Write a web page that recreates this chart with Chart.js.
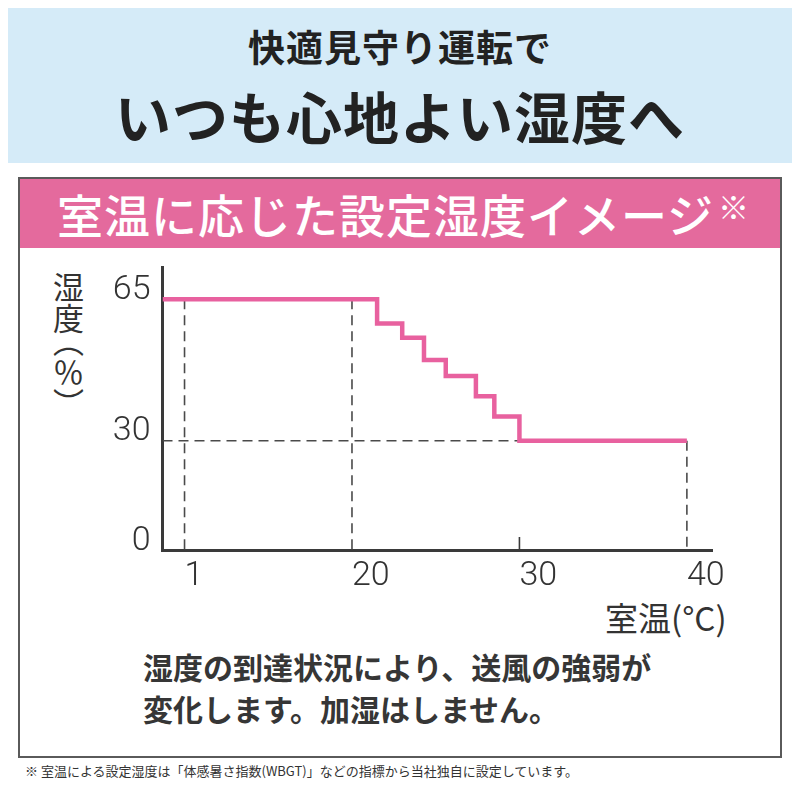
<!DOCTYPE html>
<html lang="ja">
<head>
<meta charset="utf-8">
<script src="https://cdn.jsdelivr.net/npm/chart.js@4.4.1/dist/chart.umd.min.js"></script>
<style>
  body { margin: 0; width: 800px; height: 800px; position: relative; background: #fff;
         font-family: "Noto Sans CJK JP", "Noto Sans", sans-serif; color: #2b2b2b; overflow: hidden; }
  .abs { position: absolute; line-height: 1; white-space: nowrap; }
  #banner { left: 8px; top: 8px; width: 784px; height: 155px; background: #d5ebf8; }
  #t1 { left: 0; width: 800px; text-align: center; top: 28px; font-size: 37px; font-weight: 700; letter-spacing: 1px; color: #222; }
  #t2 { left: 0; width: 800px; text-align: center; top: 87px; font-size: 56px; font-weight: 700; letter-spacing: 1px; color: #222; }
  #frame { left: 18px; top: 177px; width: 764px; height: 581px; box-sizing: border-box; border: 2px solid #5a5a5a; }
  #head { left: 20px; top: 179px; width: 760px; height: 69px; background: #e46a9d; }
  #headText { left: 57px; top: 190px; font-size: 46px; font-weight: 500; letter-spacing: 1px; color: #fff; }
  #headMark { left: 718px; top: 190px; font-size: 31px; color: #fff; }
  #ylab { left: 53px; top: 272px; font-size: 31px; writing-mode: vertical-rl; color: #333; }
  #ylab span { position: relative; top: -8px; }
  #xlab { left: 605px; top: 601px; font-size: 33px; color: #333; }
  #note1 { left: 143px; top: 651px; font-size: 30px; font-weight: 700; color: #363636; }
  #note2 { left: 143px; top: 693px; font-size: 30px; font-weight: 700; color: #363636; }
  #foot { left: 25px; top: 764px; font-size: 13px; color: #333; }
  #wrap { position: absolute; left: 40px; top: 231px; width: 720px; height: 379px; }
</style>
</head>
<body>
<div class="abs" id="banner"></div>
<div class="abs" id="t1">快適見守り運転で</div>
<div class="abs" id="t2">いつも心地よい湿度へ</div>
<div class="abs" id="frame"></div>
<div class="abs" id="head"></div>
<div class="abs" id="headText">室温に応じた設定湿度イメージ</div>
<div class="abs" id="headMark">※</div>
<div class="abs" id="ylab">湿度<span>（％）</span></div>
<div class="abs" id="xlab">室温(°C)</div>
<div class="abs" id="note1">湿度の到達状況により、送風の強弱が</div>
<div class="abs" id="note2">変化します。加湿はしません。</div>
<div class="abs" id="foot">※ 室温による設定湿度は「体感暑さ指数(WBGT)」などの指標から当社独自に設定しています。</div>
<div id="wrap"><canvas id="chart" width="720" height="379"></canvas></div>

<script>
// 室温(°C)ごとの設定湿度(%) — 各点から次の段へ切り替わる
const roomTemps = [-1.5, 21.5, 23, 24.3, 25.6, 27.4, 28.5, 30, 40];
const humidity  = [65, 59, 55.5, 50, 46, 41, 36, 30, 30];

// 目盛り
const xTicks = [1, 20, 30, 40];
const yTicks = [0, 30, 65];
const xTickPos = [0, 1, 2, 3];       // 目盛りは等間隔に並ぶ
const yTickPos = [0, 1, 2.294];

// 点線の補助線
const guideTemps = [1, 20, 40];
const guideHum = 30;
const tickMarkTemps = [30];

const X_MIN = -1.5, X_MAX = 41.5, Y_MAX = 73;

// 目盛りの間を区間ごとに直線でつなぐ
function piecewise(v, ticks, pos) {
  let i = 0;
  while (i < ticks.length - 2 && v > ticks[i + 1]) i++;
  return pos[i] + (v - ticks[i]) / (ticks[i + 1] - ticks[i]) * (pos[i + 1] - pos[i]);
}
const xPos = t => piecewise(t, xTicks, xTickPos);
const yPos = h => piecewise(h, yTicks, yTickPos);

function levelAt(t) {
  let h = humidity[0];
  roomTemps.forEach((rt, i) => { if (rt <= t) h = humidity[i]; });
  return h;
}

const stepPoints = roomTemps.map((t, i) => ({ x: xPos(t), y: yPos(humidity[i]) }));

const guidePoints = [];
guideTemps.forEach(t => {
  guidePoints.push({ x: xPos(t), y: yPos(levelAt(t)) }, { x: xPos(t), y: yPos(0) }, { x: xPos(t), y: null });
});
guidePoints.push({ x: xPos(X_MIN), y: yPos(guideHum) }, { x: xPos(guideHum), y: yPos(guideHum) });

const tickMarks = {
  id: 'tickMarks',
  afterDatasetsDraw(chart) {
    const { ctx, chartArea, scales: { x } } = chart;
    ctx.save();
    ctx.strokeStyle = '#3a3a3a';
    ctx.lineWidth = 1.6;
    tickMarkTemps.forEach(t => {
      const px = x.getPixelForValue(xPos(t));
      ctx.beginPath();
      ctx.moveTo(px, chartArea.bottom);
      ctx.lineTo(px, chartArea.bottom - 13);
      ctx.stroke();
    });
    ctx.restore();
  }
};

const tickFont = { family: 'Roboto', size: 34, weight: 300 };

new Chart(document.getElementById('chart'), {
  type: 'line',
  data: {
    datasets: [{
      data: stepPoints,
      stepped: 'before',
      borderColor: '#e8619f',
      borderWidth: 4.5,
      borderJoinStyle: 'miter',
      pointRadius: 0,
      order: 0
    }, {
      data: guidePoints,
      borderColor: '#4a4a4a',
      borderWidth: 1.6,
      borderDash: [10, 6],
      pointRadius: 0,
      spanGaps: false,
      order: 1
    }]
  },
  options: {
    responsive: false,
    animation: false,
    events: [],
    layout: { padding: { top: 36, right: 48, left: 0, bottom: 0 } },
    plugins: { legend: { display: false }, tooltip: { enabled: false } },
    scales: {
      x: {
        type: 'linear',
        min: xPos(X_MIN),
        max: xPos(X_MAX),
        afterBuildTicks: s => { s.ticks = xTicks.map(t => ({ value: xPos(t) })); },
        afterFit: s => { s.height = 60; },
        grid: { display: false, drawTicks: false },
        border: { color: '#3a3a3a', width: 3 },
        ticks: { autoSkip: false, maxRotation: 0, align: 'start', padding: 6, color: '#333',
                 font: tickFont, callback: (v, i) => xTicks[i] }
      },
      y: {
        type: 'linear',
        min: 0,
        max: yPos(Y_MAX),
        afterBuildTicks: s => { s.ticks = yTicks.map(h => ({ value: yPos(h) })); },
        afterFit: s => { s.width = 122.5; },
        grid: { display: false, drawTicks: false },
        border: { color: '#3a3a3a', width: 3 },
        ticks: { autoSkip: false, padding: 12, labelOffset: -9, color: '#333',
                 font: tickFont, callback: (v, i) => yTicks[i] }
      }
    }
  },
  plugins: [tickMarks]
});
</script>
</body>
</html>
